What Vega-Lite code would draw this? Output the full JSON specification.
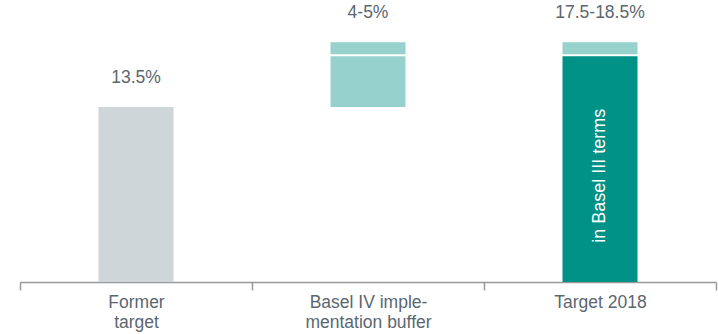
{
  "$schema": "https://vega.github.io/schema/vega-lite/v6.json",
  "width": 696,
  "height": 282,
  "autosize": "none",
  "padding": {"left": 20, "top": 0, "right": 2, "bottom": 52},
  "background": "white",
  "config": {"view": {"stroke": null}, "font": "Liberation Sans"},
  "datasets": {
    "bars": [
      {"cat": "Former target", "start": 0, "end": 13.5, "part": "former"},
      {"cat": "Basel IV implementation buffer", "start": 13.5, "end": 17.5, "part": "buffer"},
      {"cat": "Basel IV implementation buffer", "start": 17.5, "end": 18.5, "part": "buffer"},
      {"cat": "Target 2018", "start": 0, "end": 17.5, "part": "core"},
      {"cat": "Target 2018", "start": 17.5, "end": 18.5, "part": "buffer"}
    ],
    "separators": [
      {"cat": "Basel IV implementation buffer", "at": 17.5},
      {"cat": "Target 2018", "at": 17.5}
    ],
    "labels": [
      {"cat": "Former target", "top": 13.5, "label": "13.5%"},
      {"cat": "Basel IV implementation buffer", "top": 18.5, "label": "4-5%"},
      {"cat": "Target 2018", "top": 18.5, "label": "17.5-18.5%"}
    ],
    "inner": [
      {"cat": "Target 2018", "mid": 8.2, "label": "in Basel III terms"}
    ]
  },
  "encoding": {
    "x": {
      "field": "cat",
      "type": "nominal",
      "sort": null,
      "scale": {"domain": ["Former target", "Basel IV implementation buffer", "Target 2018"], "paddingInner": 0, "paddingOuter": 0},
      "axis": {
        "title": null,
        "labelAngle": 0,
        "tickBand": "extent",
        "domainColor": "#999999",
        "tickColor": "#999999",
        "tickSize": 8,
        "domainWidth": 1.5,
        "tickWidth": 1.5,
        "labelFontSize": 17.5,
        "labelColor": "#5b6770",
        "labelPadding": 3,
        "labelLineHeight": 20,
        "labelExpr": "datum.value == 'Former target' ? ['Former', 'target'] : datum.value == 'Target 2018' ? 'Target 2018' : datum.value == 'Basel IV implementation buffer' ? ['Basel IV imple-', 'mentation buffer'] : ''"
      }
    }
  },
  "layer": [
    {
      "data": {"name": "bars"},
      "mark": {"type": "bar", "width": 75},
      "encoding": {
        "y": {"field": "start", "type": "quantitative", "scale": {"domain": [0, 21.76], "nice": false, "zero": true}, "axis": null},
        "y2": {"field": "end"},
        "color": {
          "field": "part",
          "type": "nominal",
          "scale": {"domain": ["former", "buffer", "core"], "range": ["#cfd6d9", "#96d2cb", "#009286"]},
          "legend": null
        }
      }
    },
    {
      "data": {"name": "separators"},
      "mark": {"type": "tick", "color": "white", "size": 77, "thickness": 2, "opacity": 1},
      "encoding": {
        "y": {"field": "at", "type": "quantitative"}
      }
    },
    {
      "data": {"name": "labels"},
      "mark": {"type": "text", "fontSize": 17.5, "color": "#5b6770", "dy": -29.5, "baseline": "middle"},
      "encoding": {
        "y": {"field": "top", "type": "quantitative"},
        "text": {"field": "label"}
      }
    },
    {
      "data": {"name": "inner"},
      "mark": {"type": "text", "fontSize": 18, "color": "white", "angle": 270, "baseline": "middle", "align": "center"},
      "encoding": {
        "y": {"field": "mid", "type": "quantitative"},
        "text": {"field": "label"}
      }
    }
  ]
}
